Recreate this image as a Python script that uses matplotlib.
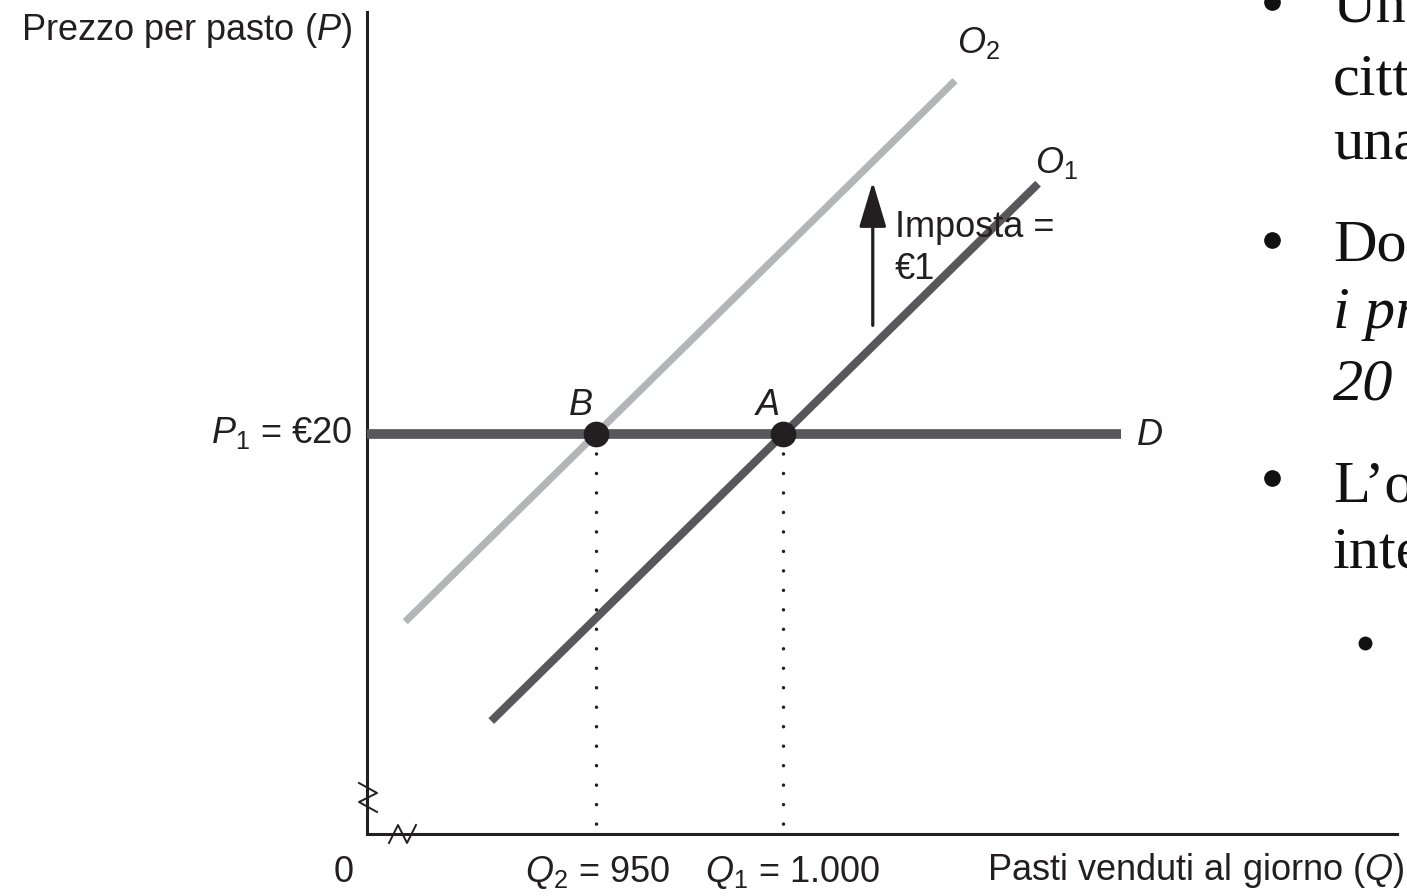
import matplotlib
matplotlib.use("Agg")
import matplotlib.pyplot as plt
from matplotlib.lines import Line2D
from matplotlib import font_manager as fm

# ---------------- data ----------------
q_demand = [888.8, 1090.5]          # demand D (horizontal at P1)
p_demand = [20.0, 20.0]
q_o1 = [922.0, 1068.2]              # supply O1
p_o1 = [18.44, 21.36]
q_o2 = [899.0, 1046.0]              # supply O2 (after tax)
p_o2 = [18.98, 21.92]
eq_q = [950, 1000]                  # B, A
eq_p = [20, 20]
eq_labels = ["B", "A"]
tax_q = 1024
tax_p = [20.59, 21.37]

slide_lines = ["Una", "città", "una", "Dopo", "i prezzi", "20", "L\u2019offerta", "interna"]
slide_italic = [False, False, False, False, True, True, False, False]
slide_baselines = [22, 96, 160, 261, 328, 400, 501, 568]

# ---------------- fonts ----------------
names = {f.name for f in fm.fontManager.ttflist}
if "Liberation Sans Narrow" in names:
    sans, FS = "Liberation Sans Narrow", 30
elif "Liberation Sans" in names:
    sans, FS = "Liberation Sans", 26
else:
    sans, FS = "DejaVu Sans", 24
serif = "Liberation Serif" if "Liberation Serif" in names else "DejaVu Serif"
plt.rcParams["font.family"] = [sans, "DejaVu Sans"]
plt.rcParams["mathtext.fontset"] = "custom"
plt.rcParams["mathtext.rm"] = sans
plt.rcParams["mathtext.it"] = sans + ":italic"
plt.rcParams["mathtext.bf"] = sans + ":bold"

INK = "#231f20"
DARK = "#58585a"
LIGHT = "#b4b5b7"

W, H = 1407, 896
fig = plt.figure(figsize=(W / 100, H / 100), dpi=100)
ax = fig.add_axes([367 / W, 1 - 834 / H, (1397 - 367) / W, (834 - 12) / H])
ax.set_xlim(888.77, 1164.17)
ax.set_ylim(17.826, 22.293)
ax.patch.set_alpha(0)
for s in ["top", "right"]:
    ax.spines[s].set_visible(False)
for s in ["left", "bottom"]:
    ax.spines[s].set_linewidth(2.2)
    ax.spines[s].set_color(INK)
ax.set_xticks([])
ax.set_yticks([])

# curves
ax.plot(q_o2, p_o2, color=LIGHT, lw=5.2, solid_capstyle="butt", zorder=2)
ax.plot(q_o1, p_o1, color=DARK, lw=5.8, solid_capstyle="butt", zorder=3)
ax.plot(q_demand, p_demand, color=DARK, lw=7.0, solid_capstyle="butt", zorder=3)

# dotted guides
y0 = ax.get_ylim()[0]
for q, p in zip(eq_q, eq_p):
    ln, = ax.plot([q, q], [p, y0], color=INK, lw=2.5, zorder=1)
    ln.set_dashes((0.01, 5.6))
    ln.set_dash_capstyle("round")

# equilibrium points
ax.plot(eq_q, eq_p, "o", ms=17.5, color=INK, zorder=6)
for q, p, lab in zip(eq_q, eq_p, eq_labels):
    ax.annotate(lab, (q, p), xytext=(-15, 19), textcoords="offset pixels",
                ha="center", va="baseline", fontsize=FS, style="italic", color=INK)

# tax arrow
ax.annotate("", xy=(tax_q, tax_p[1]), xytext=(tax_q, tax_p[0]),
            arrowprops=dict(arrowstyle="-|>,head_length=1.4,head_width=0.42",
                            mutation_scale=20, lw=2.3, color=INK,
                            shrinkA=0, shrinkB=0), zorder=5)

# labels
txt = dict(fontsize=FS, color=INK, clip_on=False)
ax.text(1046.5, 22.07, r"$O_2$", ha="left", va="baseline", **txt)
ax.text(1067.4, 21.42, r"$O_1$", ha="left", va="baseline", **txt)
ax.text(1029.9, 21.07, "Imposta =", ha="left", va="baseline", zorder=7, **txt)
ax.text(1029.9, 20.84, "€1", ha="left", va="baseline", zorder=7, **txt)
ax.text(1094.65, 19.94, "D", ha="left", va="baseline", style="italic", **txt)
ax.text(884.76, 19.95, r"$P_1$ = €20", ha="right", va="baseline", **txt)
ax.text(884.76, 22.141, r"Prezzo per pasto ($P$)", ha="right", va="baseline", **txt)
ax.text(882.6, 17.565, "0", ha="center", va="baseline", **txt)
ax.text(931.0, 17.565, r"$Q_2$ = 950", ha="left", va="baseline", **txt)
ax.text(979.1, 17.565, r"$Q_1$ = 1.000", ha="left", va="baseline", **txt)
ax.text(1166.3, 17.575, r"Pasti venduti al giorno ($Q$)", ha="right", va="baseline", **txt)

# axis-break zigzags (pixel-based decorations)
def px(x, y):
    return (x / W, 1 - y / H)

zig_y = [px(359, 783), px(377, 793), px(359, 802), px(377, 812)]
zig_x = [px(389, 843), px(398, 825), px(407, 843), px(416, 825)]
for pts in (zig_y, zig_x):
    fig.add_artist(Line2D([p[0] for p in pts], [p[1] for p in pts],
                          transform=fig.transFigure, color=INK, lw=1.4))

# slide text at right (cut by the frame, as in the reference)
for s, it, yb in zip(slide_lines, slide_italic, slide_baselines):
    fig.text(1333 / W, 1 - yb / H, s, ha="left", va="baseline",
             family=[serif, "DejaVu Serif"], fontsize=43.5,
             style="italic" if it else "normal", color="#111111")
for (bx, by, ms) in [(1272, 2, 11), (1272, 240, 11), (1272, 478, 11), (1365, 643, 9)]:
    fig.add_artist(Line2D([bx / W], [1 - by / H], transform=fig.transFigure,
                          marker="o", ms=ms, color="#111111", lw=0))

fig.savefig("out.png", dpi=100)
